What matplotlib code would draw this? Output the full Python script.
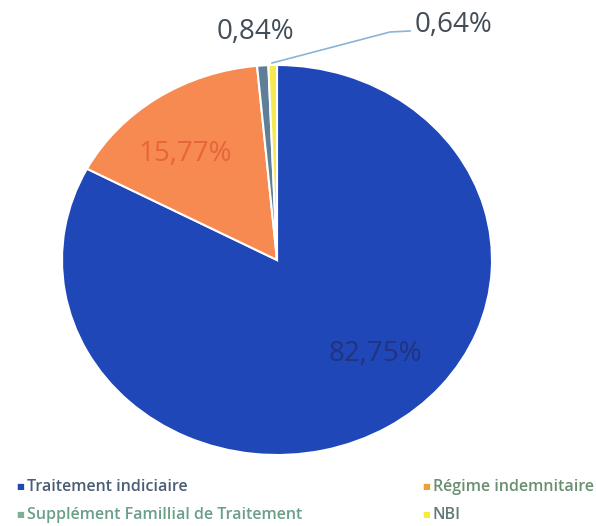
import matplotlib
matplotlib.use("Agg")
import matplotlib.pyplot as plt
from matplotlib.lines import Line2D

# données
categories = ["Traitement indiciaire", "Régime indemnitaire",
              "Supplément Famillial de Traitement", "NBI"]
values = [82.75, 15.77, 0.84, 0.64]
labels_pct = ["82,75%", "15,77%", "0,84%", "0,64%"]
colors = ["#1f47b8", "#f68a50", "#5f7f98", "#f4ea50"]
marker_colors = ["#1f47b8", "#e9a234", "#7fae96", "#f2ee3a"]

plt.rcParams['font.family'] = ['Open Sans', 'DejaVu Sans']

fig = plt.figure(figsize=(5.96, 5.26), dpi=100)
W, H = 596, 526
# axes placé pour que le camembert (légèrement ovale) occupe la même zone
ax = fig.add_axes([62 / W, (H - 455) / H, 430 / W, 390 / H])
wedges, _ = ax.pie(values, colors=colors, startangle=90, counterclock=False,
                   radius=1, wedgeprops=dict(edgecolor="white", linewidth=1.5))
ax.set_aspect('auto')
ax.set_xlim(-1, 1)
ax.set_ylim(-1, 1)
ax.axis('off')

# étiquettes de pourcentage (coordonnées figure en pixels)
def fig_xy(px, py):
    return px / W, 1 - py / H

fig.text(*fig_xy(375, 354), labels_pct[0], fontsize=20, color="#23337e",
         ha="center", va="center")
fig.text(*fig_xy(185, 154), labels_pct[1], fontsize=20, color="#e8643c",
         ha="center", va="center")
fig.text(*fig_xy(255, 32), labels_pct[2], fontsize=20, color="#434d58",
         ha="center", va="center")
fig.text(*fig_xy(453, 25), labels_pct[3], fontsize=20, color="#434d58",
         ha="center", va="center")
# trait de rappel pour 0,64%
fig.add_artist(Line2D([272 / W, 390 / W, 410 / W],
                      [1 - 63 / H, 1 - 32 / H, 1 - 31 / H],
                      color="#8ab4d8", lw=1.2))

# légende
text_colors = ["#4a5d75", "#6a8f70", "#6a9f88", "#607a78"]
leg_pos = [(16, 487), (422, 487), (16, 515), (422, 515)]
for cat, mc, tc, (px, py) in zip(categories, marker_colors, text_colors, leg_pos):
    fig.text(*fig_xy(px, py), "■", fontsize=6, color=mc, ha="left", va="center")
    fig.text(*fig_xy(px + 11, py), cat, fontsize=11.5, color=tc, ha="left",
             va="center", fontweight="semibold")

fig.savefig("out.png", dpi=100, facecolor="white")
